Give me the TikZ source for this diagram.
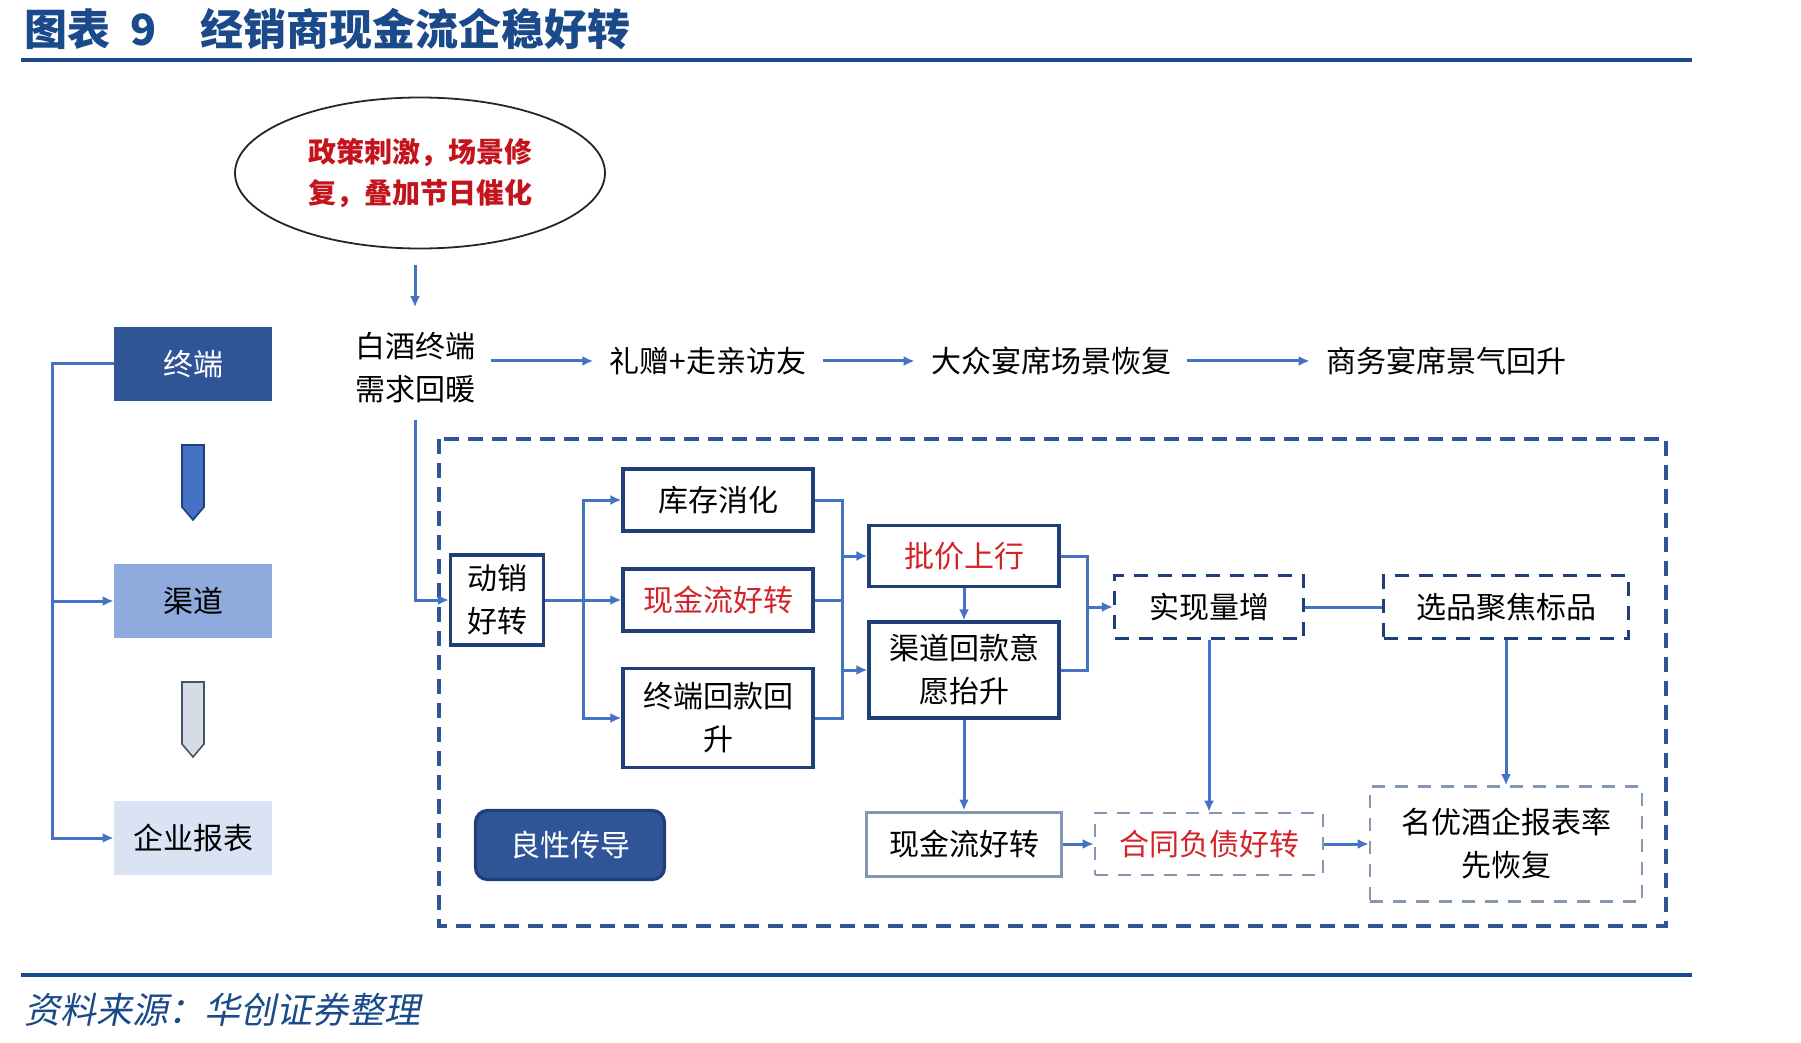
\documentclass[tikz,border=0pt]{standalone}
\usepackage{fontspec}
\setmainfont{Noto Sans CJK SC}
\newfontfamily\slantcjk[FakeSlant=0.2]{Noto Sans CJK SC}
\usetikzlibrary{arrows.meta,shapes.geometric}

\definecolor{titleblue}{HTML}{1A4A8A}
\definecolor{navy}{HTML}{203F78}
\definecolor{linkblue}{HTML}{4472C4}
\definecolor{deepblue}{HTML}{2F5597}
\definecolor{midblue}{HTML}{8FAADC}
\definecolor{paleblue}{HTML}{DAE3F3}
\definecolor{paleslate}{HTML}{D6DCE5}
\definecolor{slate}{HTML}{44546A}
\definecolor{greyblue}{HTML}{8497B0}
\definecolor{hotred}{RGB}{210,35,40}
\definecolor{policyred}{RGB}{195,20,30}

\newcommand\bodysize{\fontsize{15pt}{21.5pt}\selectfont}
\newcommand\ellsize{\fontsize{14pt}{20.5pt}\selectfont}

\begin{document}
\begin{tikzpicture}[x=0.5pt,y=-0.5pt]
\tikzset{
  plain/.style={inner sep=8pt, align=center, font=\bodysize},
  box/.style={draw=navy, line width=1.6pt, inner sep=0pt, align=center, font=\bodysize},
  dashbox/.style={box, dash pattern=on 7pt off 5pt},
  greybox/.style={box, draw=greyblue, line width=1.3pt, dash pattern=on 6.5pt off 5pt},
  side/.style={inner sep=0pt, minimum width=79pt, minimum height=37pt, font=\bodysize},
  link/.style={draw=linkblue, line width=1.5pt},
  flow/.style={link, -{Latex[length=5.5pt,width=5pt]}},
}
\useasboundingbox (0,0) rectangle (1801,1043);

% heading, rules and source line
\node[anchor=west, inner sep=0pt, text=titleblue, font=\fontsize{21.5pt}{24pt}\bfseries] (title) at (24,29) {图表\hspace{10pt}9\hspace{22pt}经销商现金流企稳好转};
\draw[titleblue, line width=2pt] (21,60) -- (1692,60);
\draw[titleblue, line width=2pt] (21,975) -- (1692,975);
\node[anchor=west, inner sep=0pt, text=titleblue, font=\fontsize{18pt}{20pt}\slantcjk] (source) at (24,1010) {资料来源：华创证券整理};

% left column
\node[side, fill=deepblue, text=white] (end) at (193,364) {终端};
\node[side, fill=midblue] (channel) at (193,601) {渠道};
\node[side, fill=paleblue] (report) at (193,838) {企业报表};
\foreach \top/\fc/\dc in {445/linkblue/navy, 682/paleslate/slate}
  \filldraw[fill=\fc, draw=\dc, line width=0.8pt] (182,\top) -- ++(22,0) -- ++(0,62) -- ++(-11,13) -- ++(-11,-13) -- cycle;
\coordinate (rail) at (52,364);
\draw[flow] (end.west) -- (rail) |- (report.west);
\draw[flow] (rail |- channel) -- (channel.west);

% demand chain
\node[draw=black!85, line width=0.9pt, ellipse, minimum width=185pt, minimum height=75.5pt, inner sep=0pt, align=center, text=policyred, font=\ellsize\bfseries] (policy) at (420,173) {政策刺激，场景修\\复，叠加节日催化};
\node[plain] (demand) at (415,368) {白酒终端\\需求回暖};
\node[plain] (gift) at (708,361) {礼赠+走亲访友};
\node[plain] (banquet) at (1051,361) {大众宴席场景恢复};
\node[plain] (business) at (1446,361) {商务宴席景气回升};
\draw[flow, shorten <=8pt, shorten >=4.5pt] (demand.north |- policy.south) -- (demand.north);
\draw[flow] (demand.east |- gift) -- (gift.west);
\draw[flow] (gift) -- (banquet);
\draw[flow] (banquet) -- (business);

% transmission frame
\draw[deepblue, line width=2pt, dash pattern=on 7.5pt off 4.5pt] (439,439) rectangle (1666,926);

\node[box, minimum width=46.5pt, minimum height=45pt] (sales) at (497,600) {动销\\好转};
\node[box, minimum width=95pt, minimum height=31pt] (stock) at (718,500) {库存消化};
\node[box, minimum width=95pt, minimum height=31pt, text=hotred] (cash) at (718,600) {现金流好转};
\node[box, minimum width=95pt, minimum height=49.5pt] (payback) at (718,718) {终端回款回\\升};
\node[box, minimum width=95pt, minimum height=30.5pt, text=hotred] (price) at (964,556) {批价上行};
\node[box, minimum width=95pt, minimum height=48pt] (will) at (964,670) {渠道回款意\\愿抬升};
\node[dashbox, minimum width=94.5pt, minimum height=31.5pt] (volume) at (1209,607) {实现量增};
\node[dashbox, minimum width=122.5pt, minimum height=31.5pt] (focus) at (1506,607) {选品聚焦标品};
\node[box, draw=greyblue, line width=1.5pt, minimum width=97.5pt, minimum height=32pt] (cash2) at (964,844) {现金流好转};
\node[greybox, minimum width=114pt, minimum height=31pt, text=hotred] (contract) at (1209,844) {合同负债好转};
\node[greybox, minimum width=136pt, minimum height=57.5pt] (famous) at (1506,844) {名优酒企报表率\\先恢复};
\node[box, fill=deepblue, draw=navy, rounded corners=6pt, minimum width=94.5pt, minimum height=34.5pt, text=white] (virtuous) at (570,845) {良性传导};

\draw[flow] (demand.south) |- (sales.west);
\coordinate (fork) at (583,600);
\foreach \n in {stock,cash,payback}
  \draw[flow] (sales.east) -- (fork) |- (\n.west);
\coordinate (merge) at (842,600);
\foreach \n in {stock,cash,payback}
  \draw[link] (\n.east) -| (merge);
\foreach \n in {price,will}
  \draw[flow] (merge |- \n) -- (\n.west);
\draw[flow] (price) -- (will);
\coordinate (merge2) at (1087,607);
\foreach \n in {price,will}
  \draw[link] (\n.east) -| (merge2);
\draw[flow] (merge2) -- (volume.west);
\draw[link] (volume) -- (focus);
\draw[flow] (will) -- (cash2);
\draw[flow] (volume) -- (contract);
\draw[flow] (focus) -- (famous);
\draw[flow] (cash2) -- (contract);
\draw[flow] (contract) -- (famous);
\end{tikzpicture}
\end{document}
